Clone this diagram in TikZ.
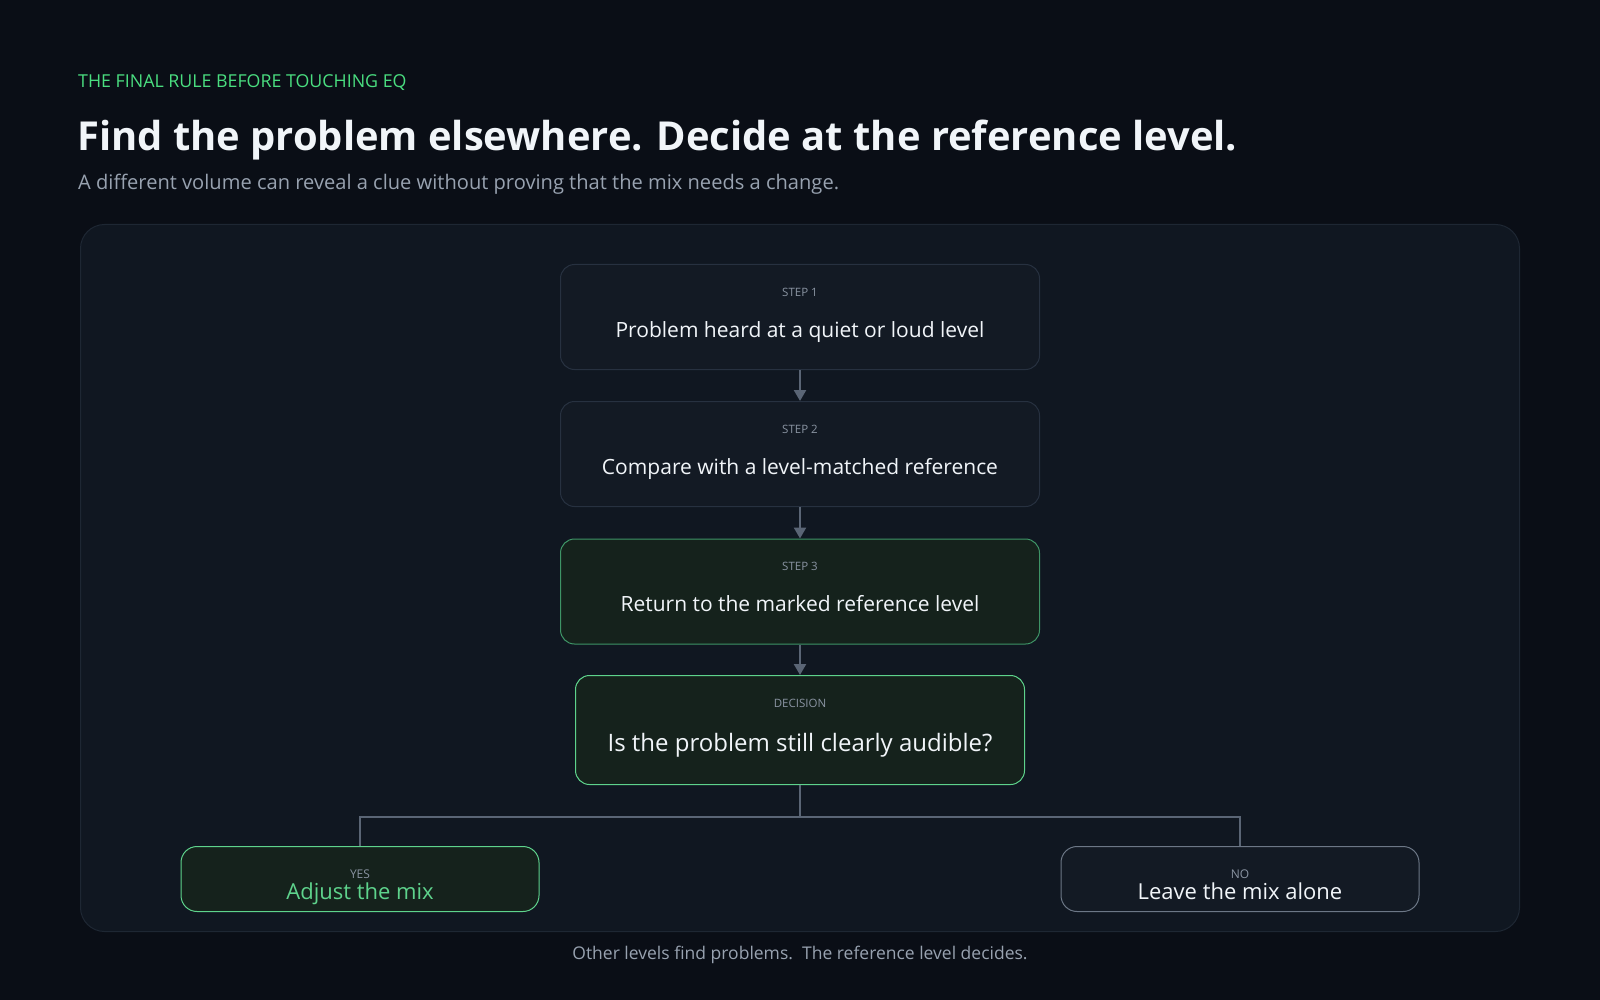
\documentclass[tikz,border=0pt]{standalone}
\usepackage{fontspec}
\setmainfont{Open Sans}
\usetikzlibrary{arrows.meta}

\definecolor{pagebg}{HTML}{0A0E16}
\definecolor{panelbg}{HTML}{101721}
\definecolor{panelline}{HTML}{1E2733}
\definecolor{boxbg}{HTML}{131A24}
\definecolor{boxline}{HTML}{273140}
\definecolor{greenbg}{HTML}{15221C}
\definecolor{greenline}{HTML}{3E9466}
\definecolor{brightgreen}{HTML}{5ED38C}
\definecolor{eyebrow}{HTML}{4ADE80}
\definecolor{titletext}{HTML}{F1F5F9}
\definecolor{subtext}{HTML}{98A2B0}
\definecolor{labeltext}{HTML}{8A94A2}
\definecolor{wire}{HTML}{5A6575}
\definecolor{noline}{HTML}{6C7786}

\tikzset{
  stepbox/.style={draw=boxline, fill=boxbg, line width=1pt, rounded corners=14pt,
    minimum width=479pt, minimum height=105pt, inner sep=0pt},
  greenbox/.style={stepbox, draw=greenline, fill=greenbg},
  steplabel/.style={text=labeltext, font=\fontsize{11.5}{13}\selectfont, inner sep=0pt},
  steptext/.style={text=titletext, font=\fontsize{21}{25}\selectfont, inner sep=0pt, anchor=base},
  wirearrow/.style={draw=wire, line width=2.4pt, -{Triangle[length=11pt,width=12pt]}},
  wireline/.style={draw=wire, line width=2.4pt}
}

\begin{document}
\begin{tikzpicture}[x=1pt,y=-1pt]
  \fill[pagebg] (0,0) rectangle (1600,1000);
  \useasboundingbox (0,0) rectangle (1600,1000);

  % heading
  \node[anchor=west, text=eyebrow, font=\fontsize{17.8}{21}\selectfont, inner sep=0pt] (eyebrowtext) at (78,83) {THE FINAL RULE BEFORE TOUCHING EQ};
  \node[anchor=west, text=titletext, font=\fontsize{39.9}{47}\selectfont\bfseries, inner sep=0pt] (title) at (77,140) {Find the problem elsewhere. Decide at the reference level.};
  \node[anchor=west, text=subtext, font=\fontsize{20.1}{24}\selectfont, inner sep=0pt] (subtitle) at (78,184) {A different volume can reveal a clue without proving that the mix needs a change.};

  % panel
  \draw[panelline, fill=panelbg, line width=1pt, rounded corners=24pt] (80.5,224.5) rectangle (1519.5,931.5);

  % steps
  \node[stepbox] (step1) at (800,317) {};
  \node[steplabel] (step1lbl) at (800,292) {STEP 1};
  \node[steptext] (step1txt) at (800,337) {Problem heard at a quiet or loud level};

  \node[stepbox] (step2) at (800,454) {};
  \node[steplabel] (step2lbl) at (800,429) {STEP 2};
  \node[steptext] (step2txt) at (800,474) {Compare with a level-matched reference};

  \node[greenbox] (step3) at (800,591.5) {};
  \node[steplabel] (step3lbl) at (800,566) {STEP 3};
  \node[steptext] (step3txt) at (800,611) {Return to the marked reference level};

  \node[greenbox, draw=brightgreen, minimum width=449pt, minimum height=109pt] (decision) at (800,730) {};
  \node[steplabel] (decisionlbl) at (800,703) {DECISION};
  \node[steptext, font=\fontsize{24}{28}\selectfont] (decisiontxt) at (800,751) {Is the problem still clearly audible?};

  % outcomes
  \node[greenbox, draw=brightgreen, minimum width=358pt, minimum height=65pt, rounded corners=16pt] (yes) at (360,879) {};
  \node[steplabel, font=\fontsize{12}{14}\selectfont] (yeslbl) at (360,874) {YES};
  \node[steptext, text=brightgreen, font=\fontsize{22}{26}\selectfont] (yestxt) at (360,899) {Adjust the mix};

  \node[stepbox, draw=noline, minimum width=358pt, minimum height=65pt, rounded corners=16pt] (no) at (1240,879) {};
  \node[steplabel, font=\fontsize{12}{14}\selectfont] (nolbl) at (1240,874) {NO};
  \node[steptext, font=\fontsize{22}{26}\selectfont] (notxt) at (1240,899) {Leave the mix alone};

  % connectors
  \draw[wirearrow] (step1.south) -- (step2.north);
  \draw[wirearrow] (step2.south) -- (step3.north);
  \draw[wirearrow] (step3.south) -- (decision.north);
  \draw[wireline] (decision.south) -- ++(0,32) -| (yes.north);
  \draw[wireline] (decision.south) -- ++(0,32) -| (no.north);

  % footer
  \node[text=subtext, font=\fontsize{17.5}{21}\selectfont, inner sep=0pt] (footer) at (800,955) {Other levels find problems.\ \ The reference level decides.};
\end{tikzpicture}
\end{document}
